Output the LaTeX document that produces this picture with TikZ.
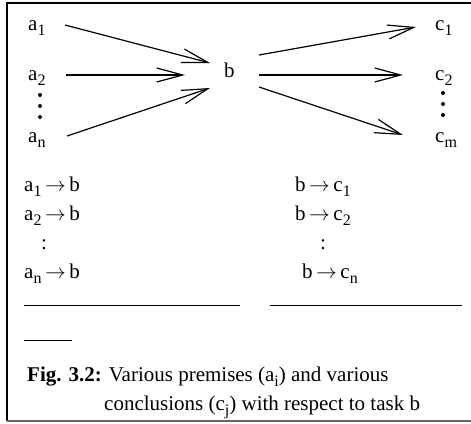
\documentclass[tikz,border=0pt]{standalone}
\usepackage{fontspec}
\setmainfont{Liberation Serif}
\usetikzlibrary{arrows.meta}
\newcommand{\sbs}[1]{\raisebox{-0.25em}{\fontsize{16}{18}\selectfont #1}}
\newcommand{\rarr}{\,$\rightarrow$\,}
\begin{document}
\begin{tikzpicture}[x=1pt,y=-1pt,
  lbl/.style={anchor=base west,inner sep=0pt,font=\fontsize{21}{24}\selectfont},
  arr/.style={line width=1.2pt,-{Straight Barb[length=26pt,width=14pt,line width=1.2pt]}},
  rule/.style={line width=0.9pt},
  dotm/.style={fill=black}]
\useasboundingbox (0,0) rectangle (471,423);
% frame (no right side)
\draw[line width=1.4pt] (471,3) -- (7,3) -- (7,421);
\draw[line width=1.4pt,black!60] (7,421) -- (471,421);
% top diagram labels
\node[lbl] (a1) at (28,30) {a\sbs{1}};
\node[lbl] (a2) at (28,80) {a\sbs{2}};
\node[lbl] (an) at (28,142) {a\sbs{n}};
\node[lbl] (b) at (224,77) {b};
\node[lbl] (c1) at (435,30) {c\sbs{1}};
\node[lbl] (c2) at (435,80) {c\sbs{2}};
\node[lbl] (cm) at (435,142) {c\sbs{m}};
% vertical dots
\foreach \y in {95,106,117} \fill[dotm] (40,\y) circle (2pt);
\foreach \y in {93,104,115} \fill[dotm] (443,\y) circle (2pt);
% arrow endpoints
\coordinate (a1s) at (65,25);  \coordinate (a1e) at (210,63);
\coordinate (a2s) at (66,75);  \coordinate (a2e) at (185,75);
\coordinate (ans) at (67,136); \coordinate (ane) at (210,88);
\coordinate (c1s) at (259,55); \coordinate (c1e) at (416,27);
\coordinate (c2s) at (259,75); \coordinate (c2e) at (403,75);
\coordinate (cms) at (259,87); \coordinate (cme) at (403,135);
\draw[arr] (a1s) -- (a1e);
\draw[arr] (a2s) -- (a2e);
\draw[arr] (ans) -- (ane);
\draw[arr] (c1s) -- (c1e);
\draw[arr] (c2s) -- (c2e);
\draw[arr] (cms) -- (cme);
% rules
\node[lbl] (l1) at (24,191) {a\sbs{1}\rarr b};
\node[lbl] (l2) at (24,220) {a\sbs{2}\rarr b};
\node[lbl] (l3) at (41,249) {:};
\node[lbl] (l4) at (24,278) {a\sbs{n}\rarr b};
\node[lbl] (r1) at (295,191) {b\rarr c\sbs{1}};
\node[lbl] (r2) at (295,220) {b\rarr c\sbs{2}};
\node[lbl] (r3) at (320,249) {:};
\node[lbl] (r4) at (302,278) {b\rarr c\sbs{n}};
% underscores
\coordinate (u1s) at (24,305);  \coordinate (u1e) at (240,305);
\coordinate (u2s) at (270,305); \coordinate (u2e) at (462,305);
\coordinate (u3s) at (24,340);  \coordinate (u3e) at (72,340);
\draw[rule] (u1s) -- (u1e);
\draw[rule] (u2s) -- (u2e);
\draw[rule] (u3s) -- (u3e);
% caption
\node[lbl] (cap1) at (27,381) {\textbf{Fig. 3.2:} Various premises (a\sbs{i}) and various};
\node[lbl] (cap2) at (104,410) {conclusions (c\sbs{j}) with respect to task b};
\end{tikzpicture}
\end{document}
